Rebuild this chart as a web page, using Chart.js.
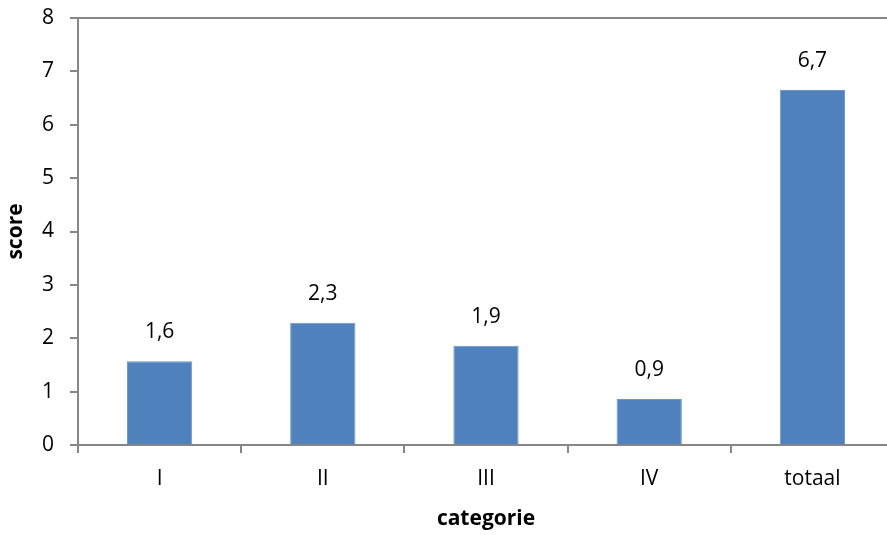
<!DOCTYPE html>
<html>
<head>
<meta charset="utf-8">
<script src="https://cdn.jsdelivr.net/npm/chart.js@4"></script>
<style>
  html, body { margin: 0; padding: 0; background: #fff; overflow: hidden; }
  #wrap { width: 895px; height: 535px; }
</style>
</head>
<body>
<div id="wrap"><canvas id="chart" width="895" height="535"></canvas></div>
<script>
// gegevens
const categories = ['I', 'II', 'III', 'IV', 'totaal'];
const scores = [1.57, 2.29, 1.86, 0.86, 6.65];
const yTicks = [0, 1, 2, 3, 4, 5, 6, 7, 8];

const axisColor = '#868686';
const barColor = '#4F81BD';
const fontFamily = '"Open Sans", sans-serif';
const fontSize = 21;

// waardelabels boven de staven
const valueLabels = {
    id: 'valueLabels',
    afterDatasetsDraw(chart) {
        const ctx = chart.ctx;
        const meta = chart.getDatasetMeta(0);
        ctx.save();
        ctx.font = fontSize + 'px ' + fontFamily;
        ctx.fillStyle = '#000';
        ctx.textAlign = 'center';
        ctx.textBaseline = 'middle';
        meta.data.forEach((bar, i) => {
            const txt = scores[i].toFixed(1).replace('.', ',');
            ctx.fillText(txt, bar.x, bar.y - 29);
        });
        ctx.restore();
    }
};

new Chart(document.getElementById('chart').getContext('2d'), {
    type: 'bar',
    data: {
        labels: categories,
        datasets: [{
            data: scores,
            backgroundColor: barColor,
            borderColor: '#6d97c9',
            borderWidth: 1,
            barPercentage: 0.4,
            categoryPercentage: 1.0
        }]
    },
    options: {
        responsive: false,
        animation: false,
        layout: { padding: { top: 18, right: 1, left: 0, bottom: 0 } },
        plugins: {
            legend: { display: false },
            tooltip: { enabled: false }
        },
        scales: {
            x: {
                offset: true,
                grid: {
                    offset: true,
                    drawOnChartArea: false,
                    color: axisColor,
                    tickColor: axisColor,
                    tickLength: 8,
                    lineWidth: 2
                },
                border: { color: axisColor, width: 2 },
                ticks: {
                    color: '#000',
                    font: { family: fontFamily, size: fontSize },
                    padding: 13,
                    maxRotation: 0
                },
                title: {
                    display: true,
                    text: 'categorie',
                    color: '#000',
                    font: { family: fontFamily, size: fontSize, weight: 'bold' },
                    padding: { top: 0, bottom: 3 }
                },
                afterFit(scale) {
                    scale.height = 90;
                    scale.paddingLeft = 0;
                    scale.paddingRight = 0;
                }
            },
            y: {
                min: 0,
                max: 8,
                afterBuildTicks(scale) {
                    scale.ticks = yTicks.map(v => ({ value: v }));
                },
                grid: {
                    color: ctx => (ctx.tick && ctx.tick.value === 8 ? axisColor : 'rgba(0,0,0,0)'),
                    tickColor: axisColor,
                    tickLength: 8,
                    lineWidth: 2
                },
                border: { color: axisColor, width: 2 },
                ticks: {
                    color: '#000',
                    font: { family: fontFamily, size: fontSize },
                    padding: 16
                },
                title: {
                    display: true,
                    text: 'score',
                    color: '#000',
                    font: { family: fontFamily, size: fontSize, weight: 'bold' },
                    padding: { top: 3, bottom: 0 }
                },
                afterFit(scale) {
                    scale.width = 78;
                    scale.paddingTop = 0;
                    scale.paddingBottom = 0;
                }
            }
        }
    },
    plugins: [valueLabels]
});
</script>
</body>
</html>
